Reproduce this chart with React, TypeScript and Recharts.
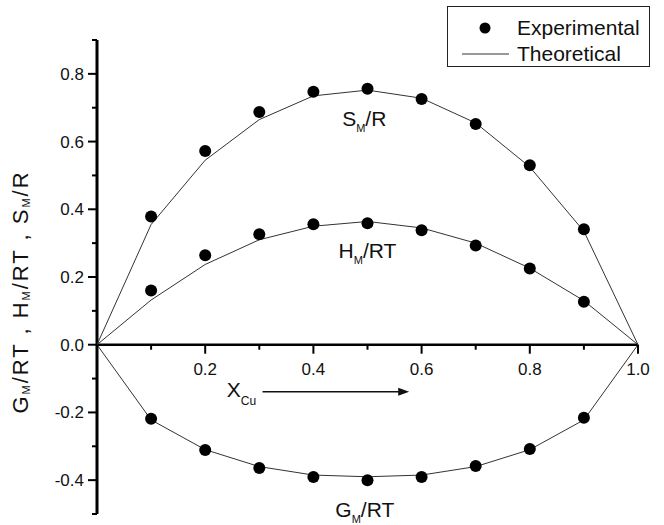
import { ComposedChart, Line, Scatter, XAxis, YAxis, ReferenceLine, ReferenceDot, Legend } from 'recharts'

// mole fraction of Cu
const xCu = [0, 0.1, 0.2, 0.3, 0.4, 0.5, 0.6, 0.7, 0.8, 0.9, 1.0]
const smTheory = [0, 0.355, 0.545, 0.665, 0.735, 0.752, 0.728, 0.655, 0.525, 0.335, 0]
const hmTheory = [0, 0.132, 0.237, 0.31, 0.35, 0.364, 0.345, 0.3, 0.226, 0.13, 0]
const gmTheory = [0, -0.222, -0.31, -0.36, -0.385, -0.39, -0.385, -0.36, -0.31, -0.222, 0]

const xExp = [0.1, 0.2, 0.3, 0.4, 0.5, 0.6, 0.7, 0.8, 0.9]
const smExp = [0.379, 0.572, 0.687, 0.747, 0.756, 0.726, 0.652, 0.53, 0.341]
const hmExp = [0.16, 0.264, 0.326, 0.356, 0.359, 0.338, 0.293, 0.225, 0.127]
const gmExp = [-0.219, -0.311, -0.364, -0.391, -0.4, -0.391, -0.358, -0.308, -0.216]

const xTicks = [0, 0.1, 0.2, 0.3, 0.4, 0.5, 0.6, 0.7, 0.8, 0.9, 1.0]
const yTicks = [-0.5, -0.4, -0.3, -0.2, -0.1, 0, 0.1, 0.2, 0.3, 0.4, 0.5, 0.6, 0.7, 0.8, 0.9]

const Y_MIN = -0.5
const Y_MAX = 0.9

const W = 664
const H = 525
const MARGIN = { top: 40, right: 26, bottom: 0, left: 0 }
const Y_AXIS_W = 97
const X_AXIS_H = 11
const PLOT_H = H - MARGIN.top - MARGIN.bottom - X_AXIS_H
// the x axis crosses at y = 0, not at the bottom of the plot
const ZERO_Y = MARGIN.top + (PLOT_H * Y_MAX) / (Y_MAX - Y_MIN)

const FONT = '"Liberation Sans", Arial, sans-serif'
const INK = '#111'

const theory = xCu.map((x, i) => ({ x, sm: smTheory[i], hm: hmTheory[i], gm: gmTheory[i] }))
const toPoints = (ys: number[]) => xExp.map((x, i) => ({ x, y: ys[i] }))

const isMajor = (v: number) => Math.round(v * 10) % 2 === 0

function XTick(props: any) {
  const { x, payload } = props
  const v = payload.value
  const major = isMajor(v)
  return (
    <g>
      <line x1={x} x2={x} y1={ZERO_Y} y2={ZERO_Y + (major ? 9 : 5)} stroke="#000" strokeWidth={2} />
      {major && v > 0 && (
        <text x={x} y={ZERO_Y + 30} textAnchor="middle" fontSize={17} fontFamily={FONT} fill={INK}>
          {v.toFixed(1)}
        </text>
      )}
    </g>
  )
}

function YTick(props: any) {
  const { y, payload } = props
  const v = payload.value
  const major = isMajor(v)
  return (
    <g>
      <line x1={Y_AXIS_W} x2={Y_AXIS_W - (major ? 9 : 5)} y1={y} y2={y} stroke="#000" strokeWidth={2} />
      {major && (
        <text x={Y_AXIS_W - 13} y={y + 6} textAnchor="end" fontSize={17} fontFamily={FONT} fill={INK}>
          {v.toFixed(1)}
        </text>
      )}
    </g>
  )
}

function Dot(props: any) {
  return <circle cx={props.cx} cy={props.cy} r={6} fill="#000" />
}

function curveLabel(main: string, rest: string, size = 21) {
  return (props: any) => (
    <text x={props.cx} y={props.cy + 7} textAnchor="middle" fontSize={size} fontFamily={FONT} fill={INK}>
      {main}
      <tspan fontSize={11} dy={6}>M</tspan>
      <tspan dy={-6}>{rest}</tspan>
    </text>
  )
}

function XCuLabel(props: any) {
  return (
    <text x={props.cx} y={props.cy + 7} textAnchor="middle" fontSize={21} fontFamily={FONT} fill={INK}>
      X<tspan fontSize={12} dy={8}>Cu</tspan>
    </text>
  )
}

function Arrow(props: any) {
  const { x1, y1, x2, y2 } = props
  return (
    <g>
      <line x1={x1} y1={y1} x2={x2 - 8} y2={y2} stroke={INK} strokeWidth={1.5} />
      <polygon points={`${x2},${y2} ${x2 - 11},${y2 - 4} ${x2 - 11},${y2 + 4}`} fill={INK} />
    </g>
  )
}

function YLabel() {
  const cx = 20
  const cy = 292
  return (
    <text
      x={cx}
      y={cy}
      transform={`rotate(-90, ${cx}, ${cy})`}
      textAnchor="middle"
      dominantBaseline="central"
      fontSize={22}
      letterSpacing={2}
      fontFamily={FONT}
      fill={INK}
    >
      G<tspan fontSize={11} dy={6}>M</tspan>
      <tspan dy={-6}>/RT , H</tspan>
      <tspan fontSize={11} dy={6}>M</tspan>
      <tspan dy={-6}>/RT , S</tspan>
      <tspan fontSize={11} dy={6}>M</tspan>
      <tspan dy={-6}>/R</tspan>
    </text>
  )
}

function LegendBox() {
  return (
    <div
      style={{
        width: 203,
        height: 61,
        border: '1px solid #222',
        background: '#fff',
        boxSizing: 'border-box',
      }}
    >
      <svg width={203} height={61}>
        <circle cx={37} cy={21} r={5.5} fill="#000" />
        <text x={69} y={28} fontSize={21} fontFamily={FONT} fill={INK}>Experimental</text>
        <line x1={14} x2={61} y1={47} y2={47} stroke="#333" strokeWidth={1} />
        <text x={69} y={54} fontSize={21} fontFamily={FONT} fill={INK}>Theoretical</text>
      </svg>
    </div>
  )
}

export default function App() {
  return (
    <div style={{ position: 'absolute', left: 0, top: 0, background: '#fff' }}>
      <ComposedChart width={W} height={H} data={theory} margin={MARGIN}>
        <XAxis
          dataKey="x"
          type="number"
          domain={[0, 1]}
          ticks={xTicks}
          interval={0}
          height={X_AXIS_H}
          axisLine={false}
          tickLine={false}
          tick={(p: any) => <XTick {...p} />}
        />
        <YAxis
          type="number"
          domain={[Y_MIN, Y_MAX]}
          ticks={yTicks}
          interval={0}
          width={Y_AXIS_W}
          axisLine={false}
          tickLine={false}
          tick={(p: any) => <YTick {...p} />}
          label={() => <YLabel />}
        />
        {/* both axes drawn as heavy lines through the origin */}
        <ReferenceLine x={0} stroke="#000" strokeWidth={3} ifOverflow="visible" />
        <ReferenceLine y={0} stroke="#000" strokeWidth={2.5} ifOverflow="visible" />
        <Line dataKey="sm" type="linear" stroke="#333" strokeWidth={1} dot={false} isAnimationActive={false} />
        <Line dataKey="hm" type="linear" stroke="#333" strokeWidth={1} dot={false} isAnimationActive={false} />
        <Line dataKey="gm" type="linear" stroke="#333" strokeWidth={1} dot={false} isAnimationActive={false} />
        <Scatter data={toPoints(smExp)} dataKey="y" shape={Dot} isAnimationActive={false} />
        <Scatter data={toPoints(hmExp)} dataKey="y" shape={Dot} isAnimationActive={false} />
        <Scatter data={toPoints(gmExp)} dataKey="y" shape={Dot} isAnimationActive={false} />
        <ReferenceDot x={0.494} y={0.667} shape={curveLabel('S', '/R')} />
        <ReferenceDot x={0.5} y={0.276} shape={curveLabel('H', '/RT')} />
        <ReferenceDot x={0.495} y={-0.489} shape={curveLabel('G', '/RT')} />
        <ReferenceDot x={0.267} y={-0.133} shape={XCuLabel} />
        <ReferenceLine
          segment={[
            { x: 0.306, y: -0.139 },
            { x: 0.577, y: -0.139 },
          ]}
          shape={Arrow}
        />
        <Legend
          layout="horizontal"
          verticalAlign="middle"
          align="center"
          content={() => <LegendBox />}
          wrapperStyle={{ position: 'absolute', left: 447, top: 6, width: 205, height: 63 }}
        />
      </ComposedChart>
    </div>
  )
}
